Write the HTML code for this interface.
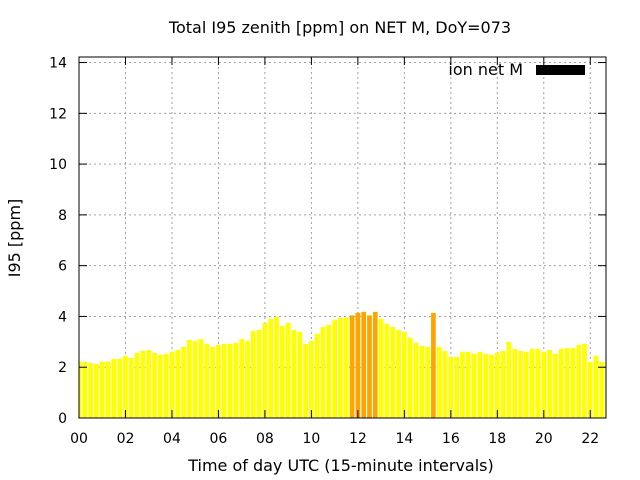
<!DOCTYPE html>
<html><head><meta charset="utf-8"><style>
body{margin:0;background:#fff;}
svg{display:block;font-family:"DejaVu Sans","Liberation Sans",sans-serif;}
</style></head><body>
<svg id="chart" width="640" height="480">
<rect width="640" height="480" fill="#fff"/>
<text x="340" y="33" text-anchor="middle" font-size="16">Total I95 zenith [ppm] on NET M, DoY=073</text>
<text transform="translate(20,238) rotate(-90)" text-anchor="middle" font-size="16">I95 [ppm]</text>
<text x="341" y="471" text-anchor="middle" font-size="16">Time of day UTC (15-minute intervals)</text>
<g id="grid"></g>
<g id="bars"></g>
<g id="axes"></g>
<text x="523" y="75" text-anchor="end" font-size="16">ion net M</text>
<rect x="536" y="65" width="49" height="10" fill="#000"/>
</svg>
<script>
const values = [2.22,2.22,2.17,2.13,2.22,2.22,2.33,2.33,2.45,2.37,
2.57,2.64,2.68,2.57,2.49,2.53,2.61,2.68,2.80,3.08,
3.04,3.11,2.92,2.80,2.88,2.92,2.92,2.96,3.11,
3.04,3.43,3.47,3.75,3.91,3.98,3.63,3.75,3.47,3.39,
2.92,3.04,3.32,3.59,3.67,3.87,3.95,
3.96,4.04,4.14,4.18,4.04,4.18,3.91,3.71,3.59,3.47,3.39,3.16,2.96,2.84,2.80,4.14,
2.80,2.64,2.41,2.41,2.61,2.61,2.53,2.61,2.53,2.49,2.57,2.64,3.0,2.72,2.64,2.61,2.72,2.72,2.61,2.68,2.53,2.72,2.76,2.76,2.88,2.92,2.21,2.45,2.21,2.41];
const yTicks = [0,2,4,6,8,10,12,14];
const xTicks = ["00","02","04","06","08","10","12","14","16","18","20","22"];
const threshold = 4;

const L=79,R=606,T=57,B=418;
const xMax=(R-L)/23.24, yMax=(B-T)/25.39;
const sx=h=>L+h*(R-L)/xMax;
const sy=v=>B-v*(B-T)/yMax;
const NS="http://www.w3.org/2000/svg";
function mk(tag,attrs,parent){const e=document.createElementNS(NS,tag);for(const k in attrs)e.setAttribute(k,attrs[k]);parent.appendChild(e);return e;}
const grid=document.getElementById('grid'),bars=document.getElementById('bars'),axes=document.getElementById('axes');
yTicks.forEach(v=>{
  const y=sy(v);
  if(v>0){const g=mk('line',{x1:L,x2:R,y1:y,y2:y,stroke:'#a0a0a0','stroke-dasharray':'2,3'},grid);
  
  }
  const t=mk('text',{x:L-12,y:y+5,'text-anchor':'end','font-size':14},axes);t.textContent=v;
  
  
  mk('line',{x1:L,x2:L+8,y1:y,y2:y,stroke:'#000'},axes);
  mk('line',{x1:R,x2:R-8,y1:y,y2:y,stroke:'#000'},axes);
});
xTicks.forEach(s=>{
  const x=sx(parseInt(s,10));
  if(parseInt(s,10)>0){const g=mk('line',{x1:x,x2:x,y1:T,y2:B,stroke:'#a0a0a0','stroke-dasharray':'2,3'},grid);
  
  }
  const t=mk('text',{x:x,y:443,'text-anchor':'middle','font-size':14},axes);t.textContent=s;
  
  
  mk('line',{x1:x,x2:x,y1:B,y2:B-8,stroke:'#000'},axes);
  mk('line',{x1:x,x2:x,y1:T,y2:T+8,stroke:'#000'},axes);
});
const bw=4.7;
values.forEach((v,i)=>{
  const xc=sx(i*0.25);
  let x0=Math.max(L,xc-bw/2),x1=Math.min(R,xc+bw/2);
  if(x1<=x0)return;
  const r=mk('rect',{x:x0,y:sy(v),width:x1-x0,height:B-sy(v),fill:v>=threshold?'#ffa500':'#ffff00'},bars);
  
  
});
const f=mk('rect',{x:L,y:T,width:R-L,height:B-T,fill:'none',stroke:'#000','stroke-width':1},axes);


</script>
</body></html>
